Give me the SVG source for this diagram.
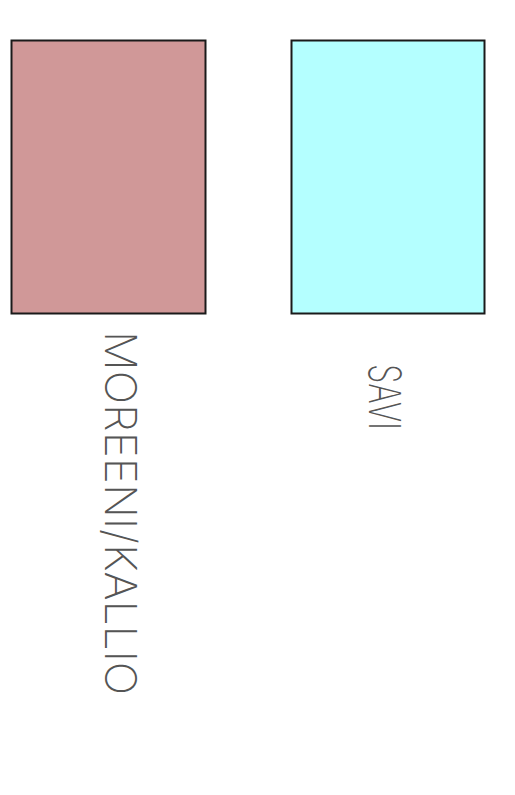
<svg xmlns="http://www.w3.org/2000/svg" width="515" height="795" viewBox="0 0 515 795">
<style>
.box{stroke:#1a1a1a;stroke-width:2}
.lbl{font-family:Inter,"Open Sans","Liberation Sans",sans-serif;font-size:44px;font-weight:200;fill:#555}
</style>
<rect width="515" height="795" fill="#fff"/>
<g id="moreeni">
<rect class="box" x="11.5" y="40.5" width="194" height="273" fill="#D09898"/>
<text class="lbl" transform="translate(105,331) rotate(90)" textLength="364" lengthAdjust="spacingAndGlyphs">MOREENI/KALLIO</text>
</g>
<g id="savi">
<rect class="box" x="291.5" y="40.5" width="193" height="273" fill="#B4FFFF"/>
<text class="lbl" transform="translate(369,364) rotate(90)" textLength="66" lengthAdjust="spacingAndGlyphs">SAVI</text>
</g>
</svg>
